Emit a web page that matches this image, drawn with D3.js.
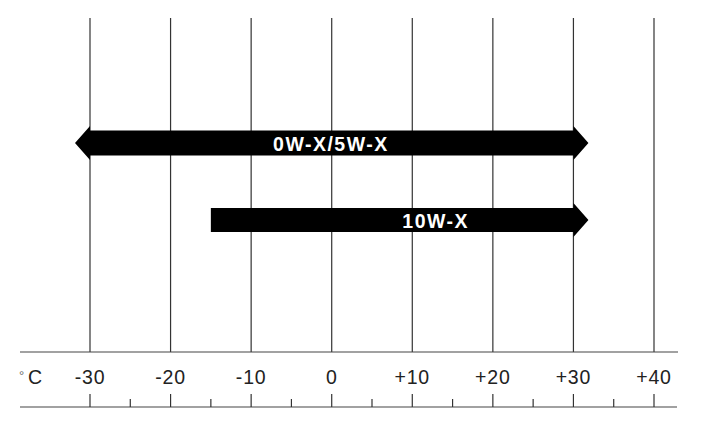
<!DOCTYPE html>
<html><head><meta charset="utf-8">
<script src="https://cdn.jsdelivr.net/npm/d3@7"></script>
<style>body{margin:0;background:#fff}svg{display:block}</style>
</head><body>
<script>
const ticks = [-30,-20,-10,0,10,20,30,40];
const tickLabels = ["-30","-20","-10","0","+10","+20","+30","+40"];
const minorTicks = [-25,-15,-5,5,15,25,35];
const grades = ["0W-X/5W-X","10W-X"];
const gradeFrom = [-30,-15];
const gradeTo = [30,30];
const leftArrow = [true,false];
const unitDeg = "°", unitC = "C";

const W=707,H=435;
const svg=d3.select("body").append("svg").attr("width",W).attr("height",H);
const x=d3.scaleLinear().domain([-30,40]).range([90,654]);
const lineTop=18, axisTop=352, axisBottom=407;
const font="Liberation Sans, Arial, sans-serif";

svg.selectAll("line.grid").data(ticks).enter().append("line")
 .attr("x1",d=>x(d)).attr("x2",d=>x(d)).attr("y1",lineTop).attr("y2",axisTop)
 .attr("stroke","#333").attr("stroke-width",1.2);

svg.append("line").attr("x1",20).attr("x2",678).attr("y1",axisTop).attr("y2",axisTop)
 .attr("stroke","#444").attr("stroke-width",1.2);

const axisG=svg.append("g").attr("transform",`translate(0,${axisBottom})`);
axisG.append("line").attr("x1",20).attr("x2",677).attr("y1",0).attr("y2",0).attr("stroke","#444").attr("stroke-width",1.2);
axisG.selectAll("line.maj").data(ticks).enter().append("line")
 .attr("x1",d=>x(d)).attr("x2",d=>x(d)).attr("y1",0).attr("y2",-13).attr("stroke","#333").attr("stroke-width",1.2);
axisG.selectAll("line.min").data(minorTicks).enter().append("line")
 .attr("x1",d=>x(d)).attr("x2",d=>x(d)).attr("y1",0).attr("y2",-8).attr("stroke","#333").attr("stroke-width",1.2);

svg.selectAll("text.tl").data(ticks).enter().append("text")
 .attr("x",d=>x(d)).attr("y",384).attr("text-anchor","middle")
 .attr("font-family",font).attr("font-size",19.5).attr("letter-spacing",0.8).attr("fill","#222")
 .text((d,i)=>tickLabels[i]);
svg.append("text").attr("x",19).attr("y",380).attr("font-family",font)
 .attr("font-size",13).attr("fill","#666").text(unitDeg);
svg.append("text").attr("x",28).attr("y",384).attr("font-family",font)
 .attr("font-size",19.5).attr("fill","#222").text(unitC);

const bodyH=[25,24], headH=34, headL=15;
const centers=[143,220];
grades.forEach((g,i)=>{
  const cy=centers[i];
  const x0=x(gradeFrom[i]), x1=x(gradeTo[i]);
  const bh=bodyH[i]/2, hh=headH/2;
  let p=d3.path();
  if(leftArrow[i]){
    p.moveTo(x0-headL,cy); p.lineTo(x0,cy-hh); p.lineTo(x0,cy-bh);
  } else {
    p.moveTo(x0,cy-bh);
  }
  p.lineTo(x1,cy-bh); p.lineTo(x1,cy-hh); p.lineTo(x1+headL,cy); p.lineTo(x1,cy+hh); p.lineTo(x1,cy+bh);
  if(leftArrow[i]){ p.lineTo(x0,cy+bh); p.lineTo(x0,cy+hh); p.closePath(); }
  else { p.lineTo(x0,cy+bh); p.closePath(); }
  svg.append("path").attr("d",p.toString()).attr("fill","#000");
});
const labelX=[-0.1,12.9];
svg.selectAll("text.g").data(grades).enter().append("text")
 .attr("x",(d,i)=>x(labelX[i])).attr("y",(d,i)=>centers[i]+8).attr("text-anchor","middle")
 .attr("font-family",font).attr("font-weight","bold").attr("font-size",19.5)
 .attr("letter-spacing",1.5)
 .attr("fill","#fff").text(d=>d);
</script>
</body></html>
